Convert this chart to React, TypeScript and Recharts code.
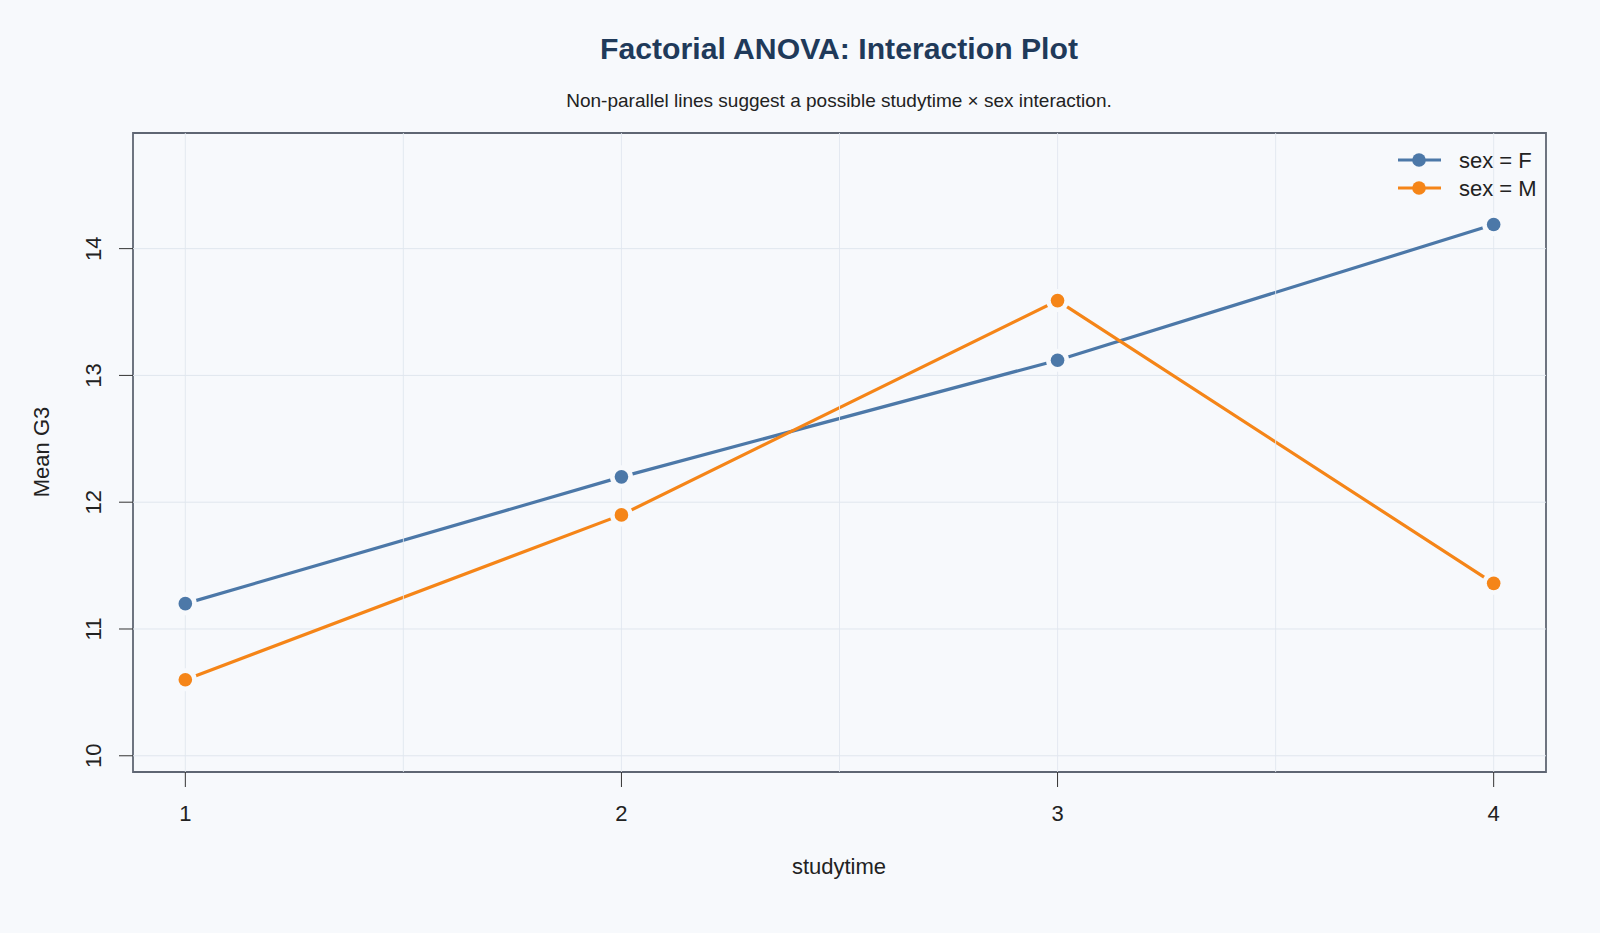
import {
  LineChart,
  Line,
  XAxis,
  YAxis,
  ReferenceLine,
  ReferenceArea,
} from "recharts";

const studytime = [1, 2, 3, 4];
const meanF = [11.2, 12.2, 13.12, 14.19];
const meanM = [10.6, 11.9, 13.59, 11.36];
const xTicks = [1, 2, 3, 4];
const yTicks = [10, 11, 12, 13, 14];
const gridX = [1, 1.5, 2, 2.5, 3, 3.5, 4];
const seriesNames = ["sex = F", "sex = M"];

const data = studytime.map((s, i) => ({ studytime: s, F: meanF[i], M: meanM[i] }));

const BG = "#f7f9fc";
const BLUE = "#4c78a8";
const ORANGE = "#f58518";
const GRID = "#e0e6ee";
const FRAME = "#5f6673";
const FONT = "'Liberation Sans', Arial, Helvetica, sans-serif";
const X_DOMAIN: [number, number] = [0.88, 4.12];
const Y_DOMAIN: [number, number] = [9.872, 14.912];

// type="b" look: a background disc opens a gap in the line around each point
function gapDot(color: string) {
  return (props: any) => {
    const { cx, cy, index } = props;
    if (cx == null || cy == null) return <g key={index} />;
    return (
      <g key={index}>
        <circle cx={cx} cy={cy} r={11.5} fill={BG} />
        <circle cx={cx} cy={cy} r={6.8} fill={color} />
      </g>
    );
  };
}

function YTick(props: any) {
  const { x, y, payload } = props;
  return (
    <text
      x={x}
      y={y}
      transform={`rotate(-90, ${x}, ${y})`}
      textAnchor="middle"
      fontSize={22}
      fontFamily={FONT}
      fill="#222"
    >
      {payload.value}
    </text>
  );
}

export default function App() {
  const colors = [BLUE, ORANGE];
  return (
    <div
      style={{
        position: "absolute",
        left: 0,
        top: 0,
        width: 1600,
        height: 933,
        background: BG,
        fontFamily: FONT,
      }}
    >
      <LineChart
        width={1600}
        height={933}
        data={data}
        margin={{ top: 133, right: 54, bottom: 101, left: 73 }}
      >
        <XAxis
          dataKey="studytime"
          type="number"
          domain={X_DOMAIN}
          ticks={xTicks}
          allowDataOverflow
          axisLine={false}
          tickSize={15}
          tickMargin={18}
          tickLine={{ stroke: "#333", strokeWidth: 1 }}
          height={60}
          tick={{ fontSize: 22, fill: "#222", fontFamily: FONT }}
        />
        <YAxis
          type="number"
          domain={Y_DOMAIN}
          ticks={yTicks}
          allowDataOverflow
          axisLine={false}
          tickSize={14}
          tickMargin={18}
          tickLine={{ stroke: "#333", strokeWidth: 1 }}
          width={60}
          tick={<YTick />}
        />
        {yTicks.map((v) => (
          <ReferenceLine key={`h${v}`} y={v} stroke={GRID} strokeWidth={1} />
        ))}
        <Line
          dataKey="F"
          stroke={BLUE}
          strokeWidth={3.2}
          dot={gapDot(BLUE)}
          activeDot={false}
          isAnimationActive={false}
        />
        <Line
          dataKey="M"
          stroke={ORANGE}
          strokeWidth={3.2}
          dot={gapDot(ORANGE)}
          activeDot={false}
          isAnimationActive={false}
        />
        {gridX.map((v) => (
          <ReferenceLine key={`v${v}`} x={v} stroke={GRID} strokeWidth={1} strokeOpacity={0.85} />
        ))}
        <ReferenceArea
          x1={X_DOMAIN[0]}
          x2={X_DOMAIN[1]}
          y1={Y_DOMAIN[0]}
          y2={Y_DOMAIN[1]}
          fill="none"
          stroke={FRAME}
          strokeWidth={1.8}
          ifOverflow="visible"
        />
      </LineChart>
      <svg
        width={1600}
        height={933}
        style={{ position: "absolute", left: 0, top: 0, pointerEvents: "none" }}
      >
        <text x={839} y={59} textAnchor="middle" fontSize={30.2} fontWeight="bold" fill="#1f3a5a" fontFamily={FONT}>
          Factorial ANOVA: Interaction Plot
        </text>
        <text x={839} y={107} textAnchor="middle" fontSize={19} fill="#222" fontFamily={FONT}>
          Non-parallel lines suggest a possible studytime × sex interaction.
        </text>
        <text x={839} y={874} textAnchor="middle" fontSize={22} fill="#222" fontFamily={FONT}>
          studytime
        </text>
        <text
          x={49}
          y={452}
          transform="rotate(-90, 49, 452)"
          textAnchor="middle"
          fontSize={22}
          fill="#222"
          fontFamily={FONT}
        >
          Mean G3
        </text>
        {seriesNames.map((name, i) => {
          const cy = 160 + i * 28;
          return (
            <g key={name}>
              <line x1={1398} x2={1441} y1={cy} y2={cy} stroke={colors[i]} strokeWidth={3.2} />
              <circle cx={1419} cy={cy} r={6.8} fill={colors[i]} />
              <text x={1459} y={cy + 7.5} fontSize={22} fontFamily={FONT} fill="#222">
                {name}
              </text>
            </g>
          );
        })}
      </svg>
    </div>
  );
}
